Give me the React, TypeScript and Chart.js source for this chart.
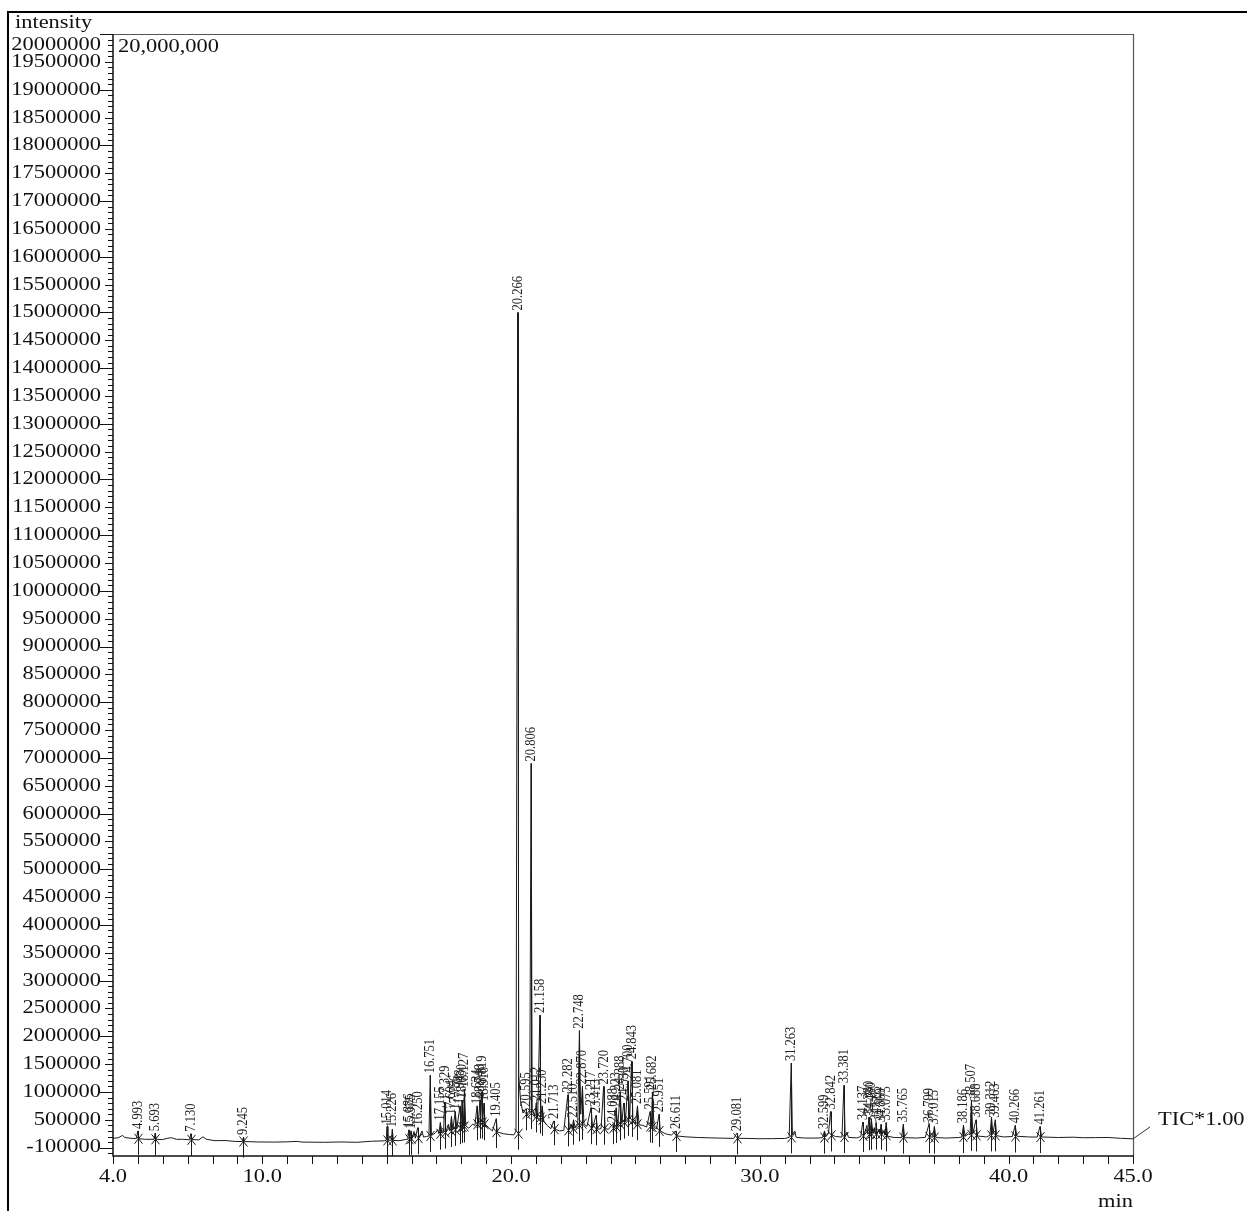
import React, { useEffect, useRef } from "react";
import { Chart, registerables } from "chart.js";
Chart.register(...registerables);

const W = 1247;
const H = 1211;
const SERIF = '"Liberation Serif", "DejaVu Serif", serif';

const xMin = 4;
const xMax = 45;
const yMin = -150000;
const yMax = 20000000;

const xTickLabels = ["4.0", "10.0", "20.0", "30.0", "40.0", "45.0"];
const yTickLabels: number[] = [-100000].concat(
  Array.from({ length: 40 }, (_, i) => (i + 1) * 500000)
);

// chromatogram trace: [time (min), intensity]
const trace: [number, number][] = [
  [4.0, 170000], [4.2, 175000], [4.38, 220000], [4.48, 180000], [4.8, 165000], [4.95, 165000],
  [4.993, 300000], [5.04, 160000], [5.3, 150000], [5.65, 150000], [5.693, 260000], [5.74, 150000],
  [6.0, 145000], [6.2, 170000], [6.35, 178000], [6.55, 150000], [6.8, 150000], [7.08, 140000],
  [7.13, 250000], [7.18, 145000], [7.45, 140000], [7.62, 195000], [7.75, 150000], [8.1, 125000],
  [8.5, 128000], [8.9, 112000], [9.2, 110000], [9.245, 190000], [9.29, 110000], [9.8, 102000],
  [10.5, 100000], [11.0, 104000], [11.4, 112000], [11.6, 100000], [12.5, 96000], [13.2, 102000],
  [13.8, 96000], [14.4, 115000], [14.9, 122000], [14.98, 130000], [15.014, 380000], [15.05, 135000],
  [15.19, 130000], [15.226, 330000], [15.27, 130000], [15.5, 125000], [15.75, 145000], [15.85, 150000],
  [15.886, 320000], [15.93, 155000], [15.975, 300000], [16.02, 165000], [16.1, 290000], [16.15, 170000],
  [16.25, 360000], [16.3, 180000], [16.42, 300000], [16.48, 190000], [16.6, 200000], [16.7, 210000],
  [16.751, 1300000], [16.8, 220000], [16.95, 260000], [17.05, 320000], [17.1, 250000], [17.155, 450000],
  [17.22, 260000], [17.29, 270000], [17.329, 820000], [17.38, 280000], [17.48, 420000], [17.54, 300000],
  [17.604, 560000], [17.66, 320000], [17.756, 650000], [17.82, 340000], [17.948, 750000], [17.99, 360000],
  [18.03, 850000], [18.08, 380000], [18.127, 1050000], [18.18, 390000], [18.3, 350000], [18.45, 420000],
  [18.55, 400000], [18.634, 750000], [18.69, 440000], [18.748, 850000], [18.78, 460000], [18.819, 1000000],
  [18.86, 450000], [18.91, 800000], [18.96, 420000], [19.1, 360000], [19.25, 300000], [19.405, 520000],
  [19.45, 280000], [19.7, 250000], [19.95, 235000], [20.12, 230000], [20.2, 300000], [20.266, 15000000],
  [20.31, 1300000], [20.38, 850000], [20.48, 620000], [20.595, 700000], [20.65, 580000], [20.75, 620000],
  [20.806, 6900000], [20.85, 700000], [20.95, 560000], [21.012, 800000], [21.07, 520000], [21.158, 2380000],
  [21.2, 550000], [21.25, 750000], [21.32, 470000], [21.45, 400000], [21.6, 340000], [21.713, 480000],
  [21.78, 330000], [21.95, 300000], [22.12, 310000], [22.282, 950000], [22.34, 320000], [22.42, 420000],
  [22.46, 330000], [22.51, 500000], [22.58, 350000], [22.68, 400000], [22.748, 2100000], [22.8, 600000],
  [22.87, 1100000], [22.93, 430000], [23.05, 380000], [23.217, 720000], [23.28, 350000], [23.413, 580000],
  [23.48, 330000], [23.62, 340000], [23.72, 1100000], [23.78, 340000], [23.92, 330000], [24.0, 380000],
  [24.088, 420000], [24.14, 350000], [24.223, 700000], [24.29, 380000], [24.388, 1000000], [24.45, 430000],
  [24.53, 800000], [24.6, 480000], [24.7, 1200000], [24.77, 520000], [24.843, 1550000], [24.9, 480000],
  [25.0, 430000], [25.081, 750000], [25.15, 410000], [25.3, 400000], [25.45, 370000], [25.591, 650000],
  [25.64, 380000], [25.682, 1000000], [25.75, 360000], [25.85, 340000], [25.951, 600000], [26.0, 300000],
  [26.2, 250000], [26.45, 225000], [26.611, 300000], [26.67, 210000], [27.0, 195000], [27.5, 182000],
  [28.0, 176000], [28.5, 170000], [28.95, 166000], [29.081, 260000], [29.14, 168000], [29.6, 165000],
  [30.0, 160000], [30.5, 162000], [31.0, 165000], [31.18, 185000], [31.263, 1520000], [31.31, 230000],
  [31.4, 300000], [31.46, 185000], [31.8, 172000], [32.3, 172000], [32.52, 180000], [32.599, 300000],
  [32.66, 200000], [32.76, 260000], [32.842, 650000], [32.9, 225000], [33.05, 200000], [33.3, 190000],
  [33.381, 1120000], [33.43, 200000], [33.5, 280000], [33.56, 185000], [33.9, 175000], [34.06, 200000],
  [34.137, 460000], [34.2, 225000], [34.3, 400000], [34.34, 240000], [34.38, 550000], [34.43, 250000],
  [34.48, 520000], [34.55, 250000], [34.6, 360000], [34.63, 250000], [34.665, 450000], [34.72, 250000],
  [34.8, 330000], [34.83, 250000], [34.869, 420000], [34.93, 245000], [35.0, 300000], [35.03, 225000],
  [35.075, 450000], [35.14, 205000], [35.4, 182000], [35.7, 180000], [35.765, 420000], [35.82, 180000],
  [36.3, 172000], [36.65, 185000], [36.799, 420000], [36.86, 195000], [36.95, 185000], [37.015, 380000],
  [37.08, 180000], [37.5, 172000], [38.0, 182000], [38.12, 190000], [38.186, 400000], [38.25, 205000],
  [38.4, 250000], [38.45, 230000], [38.507, 850000], [38.56, 250000], [38.688, 500000], [38.75, 210000],
  [39.1, 192000], [39.25, 220000], [39.312, 550000], [39.37, 250000], [39.463, 500000], [39.52, 215000],
  [39.8, 192000], [40.15, 200000], [40.266, 400000], [40.33, 205000], [40.8, 192000], [41.15, 190000],
  [41.261, 380000], [41.33, 192000], [42.0, 182000], [42.6, 188000], [43.0, 178000], [43.5, 180000],
  [44.0, 182000], [44.5, 168000], [45.0, 158000],
];

// labelled peaks: retention time label, apex intensity, local baseline intensity
const peakLabels: string[] = [
  "4.993", "5.693", "7.130", "9.245", "15.014", "15.226", "15.886", "15.975", "16.250", "16.751",
  "17.155", "17.329", "17.604", "17.756", "17.948", "18.030", "18.127", "18.634", "18.748", "18.819",
  "18.910", "19.405", "20.266", "20.595", "20.806", "21.012", "21.158", "21.250", "21.713", "22.282",
  "22.510", "22.748", "22.870", "23.217", "23.413", "23.720", "24.088", "24.223", "24.388", "24.530",
  "24.700", "24.843", "25.081", "25.591", "25.682", "25.951", "26.611", "29.081", "31.263", "32.599",
  "32.842", "33.381", "34.137", "34.380", "34.480", "34.665", "34.869", "35.075", "35.765", "36.799",
  "37.015", "38.186", "38.507", "38.688", "39.312", "39.463", "40.266", "41.261",
];
const peakTops: number[] = [
  300000, 260000, 250000, 190000, 380000, 330000, 320000, 300000, 360000, 1300000,
  450000, 820000, 560000, 650000, 750000, 850000, 1050000, 750000, 850000, 1000000,
  800000, 520000, 15000000, 700000, 6900000, 800000, 2380000, 750000, 480000, 950000,
  500000, 2100000, 1100000, 720000, 580000, 1100000, 420000, 700000, 1000000, 800000,
  1200000, 1550000, 750000, 650000, 1000000, 600000, 300000, 260000, 1520000, 300000,
  650000, 1120000, 460000, 550000, 520000, 450000, 420000, 450000, 420000, 420000,
  380000, 400000, 850000, 500000, 550000, 500000, 400000, 380000,
];
const peakBases: number[] = [
  160000, 150000, 140000, 110000, 130000, 130000, 150000, 160000, 170000, 210000,
  250000, 270000, 300000, 320000, 350000, 370000, 380000, 420000, 450000, 450000,
  420000, 280000, 250000, 600000, 620000, 560000, 540000, 500000, 330000, 310000,
  340000, 400000, 430000, 350000, 330000, 340000, 350000, 370000, 420000, 450000,
  500000, 480000, 420000, 380000, 370000, 300000, 210000, 166000, 185000, 180000,
  220000, 190000, 210000, 240000, 250000, 250000, 250000, 220000, 180000, 190000,
  180000, 190000, 230000, 220000, 220000, 220000, 200000, 190000,
];

function sText(
  ctx: CanvasRenderingContext2D,
  text: string,
  x: number,
  y: number,
  align: CanvasTextAlign,
  size = 19,
  sx = 1.18
) {
  ctx.save();
  ctx.translate(x, y);
  ctx.scale(sx, 1);
  ctx.font = `${size}px ${SERIF}`;
  ctx.fillStyle = "#111";
  ctx.textAlign = align;
  ctx.textBaseline = "middle";
  ctx.fillText(text, 0, 0);
  ctx.restore();
}

const decorPlugin = {
  id: "decor",
  afterDatasetsDraw(chart: any) {
    const ctx: CanvasRenderingContext2D = chart.ctx;
    const xs = chart.scales.x;
    const ys = chart.scales.y;
    ctx.save();
    // peak markers and labels
    peakLabels.forEach((lab, i) => {
      const t = parseFloat(lab);
      const px = Math.round(xs.getPixelForValue(t)) + 0.5;
      const top = ys.getPixelForValue(peakTops[i]);
      const base = ys.getPixelForValue(peakBases[i]);
      ctx.strokeStyle = "#1a1a1a";
      ctx.lineWidth = 1;
      ctx.beginPath();
      ctx.moveTo(px, top);
      ctx.lineTo(px, base + 16);
      ctx.moveTo(px - 4, base - 5);
      ctx.lineTo(px + 4, base + 5);
      ctx.moveTo(px + 4, base - 5);
      ctx.lineTo(px - 4, base + 5);
      ctx.stroke();
      ctx.save();
      ctx.translate(px, top - 2);
      ctx.rotate(-Math.PI / 2);
      ctx.scale(1, 1.15);
      ctx.font = `12.5px ${SERIF}`;
      ctx.fillStyle = "#222";
      ctx.textAlign = "left";
      ctx.textBaseline = "middle";
      ctx.fillText(lab, 0, 0);
      ctx.restore();
    });
    ctx.restore();
  },
  afterDraw(chart: any) {
    const ctx: CanvasRenderingContext2D = chart.ctx;
    const xs = chart.scales.x;
    const ys = chart.scales.y;
    const { left, right, top, bottom } = chart.chartArea;
    ctx.save();
    // outer frame
    ctx.strokeStyle = "#000";
    ctx.lineWidth = 2;
    ctx.beginPath();
    ctx.moveTo(8, 1211);
    ctx.lineTo(8, 12);
    ctx.lineTo(1247, 12);
    ctx.stroke();
    // plot frame top & right
    ctx.strokeStyle = "#555";
    ctx.lineWidth = 1.2;
    ctx.beginPath();
    ctx.moveTo(100, top + 0.5);
    ctx.lineTo(right + 0.5, top + 0.5);
    ctx.lineTo(right + 0.5, bottom);
    ctx.stroke();
    // axes
    ctx.strokeStyle = "#111";
    ctx.lineWidth = 1.5;
    ctx.beginPath();
    ctx.moveTo(left, top);
    ctx.lineTo(left, bottom);
    ctx.lineTo(right + 1, bottom);
    ctx.stroke();
    // y ticks
    ctx.lineWidth = 1;
    ctx.beginPath();
    for (let v = -100000; v <= yMax; v += 100000) {
      const py = Math.round(ys.getPixelForValue(v)) + 0.5;
      const len = v % 1000000 === 0 ? 13 : v % 500000 === 0 ? 8 : 5;
      ctx.moveTo(left, py);
      ctx.lineTo(left - len, py);
    }
    ctx.stroke();
    // y labels
    yTickLabels.forEach((v) => {
      let py = ys.getPixelForValue(v);
      if (v === yMax) py += 11;
      if (v === -100000) py -= 6;
      sText(ctx, String(v), 101, py, "right");
    });
    // x ticks
    ctx.beginPath();
    for (let t = xMin; t <= xMax; t += 1) {
      const px = Math.round(xs.getPixelForValue(t)) + 0.5;
      ctx.moveTo(px, bottom);
      ctx.lineTo(px, bottom + 8);
    }
    ctx.stroke();
    xTickLabels.forEach((lab) => {
      sText(ctx, lab, xs.getPixelForValue(parseFloat(lab)), 1177, "center");
    });
    // texts
    sText(ctx, "intensity", 15, 23, "left");
    sText(ctx, "20,000,000", 118, 47, "left");
    sText(ctx, "min", right, 1202, "right");
    sText(ctx, "TIC*1.00", 1158, 1120, "left");
    // TIC leader line
    const last = trace[trace.length - 1];
    ctx.strokeStyle = "#333";
    ctx.lineWidth = 1;
    ctx.beginPath();
    ctx.moveTo(xs.getPixelForValue(last[0]), ys.getPixelForValue(last[1]));
    ctx.lineTo(1150, 1127);
    ctx.stroke();
    ctx.restore();
  },
};

export default function App() {
  const ref = useRef<HTMLCanvasElement | null>(null);
  useEffect(() => {
    document.body.style.margin = "0";
    const canvas = ref.current;
    if (!canvas) return;
    const chart = new Chart(canvas, {
      type: "line",
      data: {
        datasets: [
          {
            label: "TIC",
            data: trace.map(([x, y]) => ({ x, y })),
            borderColor: "#1a1a1a",
            borderWidth: 1,
            pointRadius: 0,
            tension: 0,
            fill: false,
          },
        ],
      },
      options: {
        responsive: false,
        animation: false,
        parsing: false as any,
        layout: { padding: { left: 113, top: 34, right: 114, bottom: 55 } },
        plugins: { legend: { display: false }, tooltip: { enabled: false } },
        scales: {
          x: { type: "linear", min: xMin, max: xMax, display: false },
          y: { type: "linear", min: yMin, max: yMax, display: false },
        },
      },
      plugins: [decorPlugin],
    });
    return () => chart.destroy();
  }, []);
  return (
    <canvas
      ref={ref}
      width={W}
      height={H}
      style={{ display: "block", width: W, height: H, background: "#fff" }}
    />
  );
}
